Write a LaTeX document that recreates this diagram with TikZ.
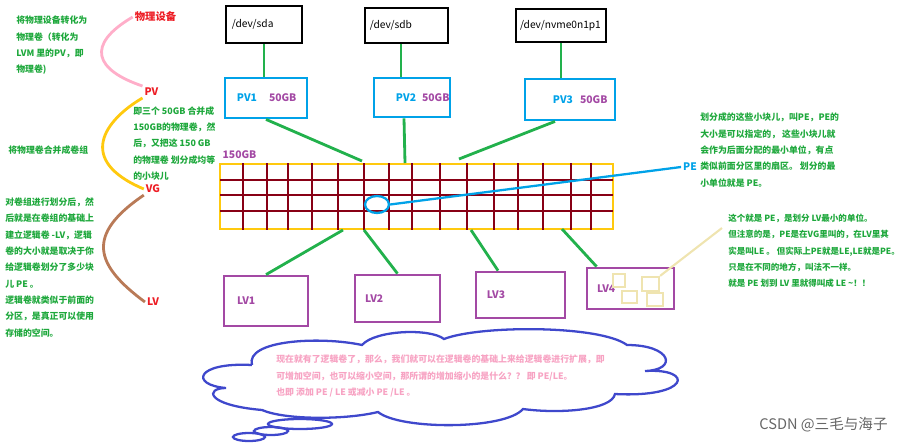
\documentclass[tikz,border=0pt]{standalone}
\usepackage{fontspec}
\setmainfont{Noto Sans CJK SC}
\usetikzlibrary{shapes.geometric}

\definecolor{lnkgreen}{HTML}{22B14C}
\definecolor{txtgreen}{HTML}{1EA83C}
\definecolor{tagred}{HTML}{ED1C24}
\definecolor{gridred}{HTML}{880015}
\definecolor{lvpurple}{HTML}{A349A4}
\definecolor{pvblue}{HTML}{00A2E8}
\definecolor{vggold}{HTML}{FFC90E}
\definecolor{letan}{HTML}{EFE4B0}
\definecolor{curvepink}{HTML}{FFAEC9}
\definecolor{curvebrown}{HTML}{B97A57}
\definecolor{cloudblue}{HTML}{3F48CC}
\definecolor{notepink}{HTML}{F7A3C3}

\tikzset{
  devbox/.style={draw=black, line width=1.6pt, inner xsep=0pt, align=left,
    font=\fontsize{5.8}{7}\selectfont},
  pvbox/.style={draw=pvblue, line width=1.6pt, inner xsep=0pt, align=left,
    text=pvblue, font=\fontsize{5.9}{7}\selectfont\bfseries},
  lvbox/.style={draw=lvpurple, line width=1.6pt, inner xsep=0pt, align=left,
    text=lvpurple, font=\fontsize{5.9}{7}\selectfont\bfseries},
  lebox/.style={draw=letan, line width=1.3pt, inner sep=0pt},
  link/.style={lnkgreen, line width=1.6pt},
  gridline/.style={gridred, line width=1.5pt},
  cloudline/.style={cloudblue, line width=1.3pt},
  note/.style={text=txtgreen, align=left, inner sep=0pt,
    font=\fontsize{5.05}{9.3}\selectfont\bfseries},
  tag/.style={text=tagred, inner sep=1pt, font=\fontsize{5.9}{7}\selectfont\bfseries},
  sizetag/.style={text=lvpurple, inner sep=1pt, font=\fontsize{5.9}{7}\selectfont\bfseries},
}

\begin{document}
\begin{tikzpicture}[x=0.02cm, y=-0.02cm]
	\useasboundingbox (0,0) rectangle (904,443);
	
	\node[tag] (phys) at (155.5,17) {物理设备};
	\node[tag] (pvtag) at (151.5,92) {PV};
	\node[tag] (vgtag) at (153,189) {VG};
	\node[tag] (lvtag) at (153,302) {LV};
	
	\draw[curvepink, line width=1.6pt] (phys.west) .. controls (85,45) and (95,70) .. (pvtag.north west);
	\draw[vggold, line width=1.6pt] (pvtag.south west) .. controls (105,120) and (75,160) .. (vgtag.west);
	\draw[curvebrown, line width=1.6pt] (vgtag.south west) .. controls (85,235) and (95,265) .. (lvtag.west);
	
	\node[note, anchor=west] (topnote) at (16,45.5) {将物理设备转化为\\物理卷（转化为\\LVM 里的PV，即\\物理卷)};
	\node[note, anchor=west] (joinnote) at (8,150) {将物理卷合并成卷组};
	\node[note, anchor=west] (lvnote) at (5,267.5) {对卷组进行划分后，然\\后就是在卷组的基础上\\建立逻辑卷 -LV，逻辑\\卷的大小就是取决于你\\给逻辑卷划分了多少块\\儿 PE 。\\逻辑卷就类似于前面的\\分区，是真正可以使用\\存储的空间。};
	\node[note, anchor=west] (vgnote) at (133,143.5) {即三个 50GB 合并成\\150GB的物理卷，然\\后，又把这 150 GB\\的物理卷 划分成均等\\的小块儿};
	
	% disks and physical volumes
	\node[devbox, text width=1.52cm, minimum height=0.74cm] (sda) at (264,24.5) {\hspace*{3.4pt}/dev/sda};
	\node[devbox, text width=1.66cm, minimum height=0.70cm] (sdb) at (406.5,25.5) {\hspace*{2.8pt}/dev/sdb};
	\node[devbox, text width=1.80cm, minimum height=0.66cm] (nvme) at (561,25.5) {\hspace*{2.3pt}/dev/nvme0n1p1};
	
	\node[pvbox, text width=1.64cm, minimum height=0.80cm] (pv1) at (266,98) {\hspace*{6.8pt}PV1\hspace{6.8pt}\textcolor{lvpurple}{50GB}};
	\node[pvbox, text width=1.52cm, minimum height=0.78cm] (pv2) at (412,97.5) {\hspace*{12.5pt}PV2\hspace{3.4pt}\textcolor{lvpurple}{50GB}};
	\node[pvbox, text width=1.80cm, minimum height=0.82cm] (pv3) at (570,99.5) {\hspace*{15.9pt}PV3\hspace{4pt}\textcolor{lvpurple}{50GB}};
	
	\draw[link] (sda.south) -- (sda.south |- pv1.north);
	\draw[link] ([xshift=-0.11cm]sdb.south) -- ([xshift=-0.11cm]sdb.south |- pv2.north);
	\draw[link] (nvme.south) -- (nvme.south |- pv3.north);
	
	% volume group
	\node[sizetag] (vgsize) at (239.5,155) {150GB};
	\node[draw=vggold, line width=1.6pt, minimum width=7.86cm, minimum height=1.30cm, inner sep=0pt] (vg) at (416.5,196.5) {};
	
	\def\gtop{163}
	\def\gbot{230}
	\foreach \gx in {243,267,288,312,338,364,389,412,440,467,494,518,543,571,591}
		\draw[gridline] (\gx,\gtop) -- (\gx,\gbot);
	\foreach \gy in {180,195,211}
		\draw[gridline] (220,\gy) -- (613,\gy);
	
	\coordinate (vgtop1) at (362,161);
	\coordinate (vgtop2) at (405,163);
	\coordinate (vgtop3) at (459,159);
	\coordinate (vgbot1) at (343,230);
	\coordinate (vgbot2) at (364,230);
	\coordinate (vgbot3) at (471,230);
	\coordinate (vgbot4) at (562,229);
	
	\draw[link] (pv1.south) -- (vgtop1);
	\draw[link] ([xshift=-0.16cm]pv2.south) -- (vgtop2);
	\draw[link] ([xshift=-0.3cm]pv3.south) -- (vgtop3);
	
	\node[ellipse, draw=pvblue, line width=1.3pt, minimum width=0.48cm, minimum height=0.34cm, inner sep=0pt] (pe) at (377,204.5) {};
	\node[text=pvblue, inner sep=1pt, font=\fontsize{5.9}{7}\selectfont\bfseries] (petag) at (690,167) {PE};
	\draw[pvblue, line width=1.3pt] (pe.east) -- (petag.west);
	
	\node[note, anchor=west] (penote) at (700,150) {划分成的这些小块儿，叫PE，PE的\\大小是可以指定的， 这些小块儿就\\会作为后面分配的最小单位，有点\\类似前面分区里的扇区。 划分的最\\小单位就是 PE。};
	
	% logical volumes
	\node[lvbox, text width=1.68cm, minimum height=1.00cm] (lv1) at (266,301) {\hspace*{7.4pt}LV1};
	\node[lvbox, text width=1.70cm, minimum height=0.94cm] (lv2) at (397.5,298.5) {\hspace*{5.7pt}LV2};
	\node[lvbox, text width=1.78cm, minimum height=0.92cm] (lv3) at (520.5,295) {\hspace*{6.2pt}LV3};
	\node[lvbox, text width=1.74cm, minimum height=0.82cm] (lv4) at (630.5,288.5) {\hspace*{5.7pt}LV4};
	
	\draw[link] (vgbot1) -- (lv1.north);
	\draw[link] (vgbot2) -- (lv2.north);
	\draw[link] (vgbot3) -- ([xshift=-0.45cm]lv3.north);
	\draw[link] (vgbot4) -- ([xshift=0.22cm]lv4.north west);
	
	\node[lebox, minimum width=0.24cm, minimum height=0.26cm] (le1) at (619,280.5) {};
	\node[lebox, minimum width=0.30cm, minimum height=0.24cm] (le2) at (629.5,297) {};
	\node[lebox, minimum width=0.34cm, minimum height=0.28cm] (le3) at (650.5,284) {};
	\node[lebox, minimum width=0.32cm, minimum height=0.26cm] (le4) at (655,299.5) {};
	
	\node[note, anchor=west, font=\fontsize{4.85}{9.3}\selectfont\bfseries] (lenote) at (728,251) {这个就是 PE，是划分 LV最小的单位。\\但注意的是，PE是在VG里叫的，在LV里其\\实是叫LE 。 但实际上PE就是LE,LE就是PE。\\只是在不同的地方，叫法不一样。\\就是 PE 划到 LV 里就得叫成 LE \textasciitilde！！};
	\coordinate (lept) at (722,228);
	\draw[letan, line width=1.2pt] (le3.north east) -- (lept);
	
	% thought cloud
	\draw[cloudline] (252,365) .. controls (245,340) and (320,336) .. (362,345)
		.. controls (375,330) and (430,328) .. (444,339)
		.. controls (480,325) and (600,325) .. (627,345)
		.. controls (672,345) and (678,370) .. (645,371)
		.. controls (695,368) and (690,398) .. (615,394)
		.. controls (612,410) and (560,414) .. (523,409)
		.. controls (505,430) and (400,430) .. (378,412)
		.. controls (345,420) and (285,420) .. (262,410)
		.. controls (205,405) and (205,388) .. (226,388)
		.. controls (190,385) and (195,362) .. (252,365);
	\node[note, text=notepink, anchor=west] (talknote) at (276,376) {现在就有了逻辑卷了，那么，我们就可以在逻辑卷的基础上来给逻辑卷进行扩展，即\\可增加空间，也可以缩小空间，那所谓的增加缩小的是什么？？ 即 PE/LE。\\也即 添加 PE / LE 或减小 PE /LE 。};
	\draw[cloudline] (300,424) ellipse [x radius=32, y radius=5];
	\draw[cloudline] (271,431) ellipse [x radius=17, y radius=4];
	\draw[cloudline] (249,437) ellipse [x radius=16, y radius=4];
	
	\node[anchor=east, text=black!60, inner sep=0pt, font=\fontsize{8.3}{10}\selectfont] (mark) at (888,425) {CSDN @三毛与海子};
\end{tikzpicture}
\end{document}
